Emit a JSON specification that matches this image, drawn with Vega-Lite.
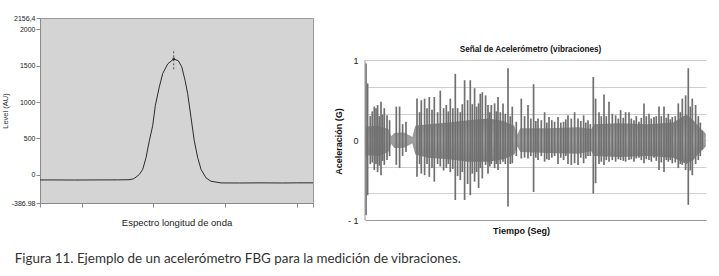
{
  "$schema": "https://vega.github.io/schema/vega-lite/v6.json",
  "background": "white",
  "padding": {"left": 0, "top": 13, "right": 2, "bottom": 2},
  "config": {"font": "Liberation Sans", "axis": {"grid": false, "labelOverlap": false}},
  "title": {"text": "Figura 11. Ejemplo de un acelerómetro FBG para la medición de vibraciones.", "orient": "bottom", "anchor": "start", "font": "Lato", "fontSize": 13.4, "fontWeight": "normal", "color": "#333333", "offset": 17, "dx": 14},
  "spacing": 18,
  "datasets": {
    "spectrum": [
      {"nm": 1539.418, "level": -70}, {"nm": 1539.6, "level": -70}, {"nm": 1539.9, "level": -71}, {"nm": 1540.2, "level": -70},
      {"nm": 1540.5, "level": -69}, {"nm": 1540.66, "level": -67}, {"nm": 1540.72, "level": -55}, {"nm": 1540.757, "level": -32},
      {"nm": 1540.803, "level": 5}, {"nm": 1540.851, "level": 75}, {"nm": 1540.897, "level": 236}, {"nm": 1540.943, "level": 468},
      {"nm": 1540.99, "level": 676}, {"nm": 1541.027, "level": 954}, {"nm": 1541.082, "level": 1208}, {"nm": 1541.13, "level": 1394},
      {"nm": 1541.199, "level": 1524}, {"nm": 1541.283, "level": 1593}, {"nm": 1541.347, "level": 1569}, {"nm": 1541.395, "level": 1486},
      {"nm": 1541.441, "level": 1301}, {"nm": 1541.478, "level": 1117}, {"nm": 1541.524, "level": 792}, {"nm": 1541.57, "level": 468},
      {"nm": 1541.618, "level": 236}, {"nm": 1541.664, "level": 75}, {"nm": 1541.734, "level": -42}, {"nm": 1541.803, "level": -88},
      {"nm": 1541.943, "level": -111}, {"nm": 1542.2, "level": -112}, {"nm": 1542.5, "level": -110}, {"nm": 1542.8, "level": -112},
      {"nm": 1543.0, "level": -110}, {"nm": 1543.226, "level": -110}
    ],
    "peak": [{"nm": 1541.283, "level": 1593, "lo": 1451, "hi": 1729}],
    "yaxis": [{"t": 0, "lo": -1, "hi": 1}],
    "band": [
      {"t": 0.3, "hi": 0.17, "lo": -0.19}, {"t": 13.3, "hi": 0.18, "lo": -0.2}, {"t": 23.3, "hi": 0.14, "lo": -0.15}, {"t": 26.3, "hi": 0.05, "lo": -0.05},
      {"t": 29.3, "hi": 0.09, "lo": -0.1}, {"t": 38.3, "hi": 0.1, "lo": -0.1}, {"t": 44.3, "hi": 0.06, "lo": -0.06}, {"t": 47.3, "hi": 0.04, "lo": -0.04},
      {"t": 50.3, "hi": 0.18, "lo": -0.18}, {"t": 63.3, "hi": 0.2, "lo": -0.22}, {"t": 83.3, "hi": 0.22, "lo": -0.24}, {"t": 103.3, "hi": 0.25, "lo": -0.27},
      {"t": 123.3, "hi": 0.27, "lo": -0.27}, {"t": 138.3, "hi": 0.24, "lo": -0.24}, {"t": 149.3, "hi": 0.18, "lo": -0.18}, {"t": 152.3, "hi": 0.07, "lo": -0.08},
      {"t": 155.3, "hi": 0.15, "lo": -0.15}, {"t": 183.3, "hi": 0.15, "lo": -0.16}, {"t": 213.3, "hi": 0.16, "lo": -0.17}, {"t": 226.3, "hi": 0.14, "lo": -0.14},
      {"t": 229.3, "hi": 0.2, "lo": -0.2}, {"t": 253.3, "hi": 0.21, "lo": -0.21}, {"t": 283.3, "hi": 0.2, "lo": -0.2}, {"t": 308.3, "hi": 0.22, "lo": -0.22},
      {"t": 321.3, "hi": 0.32, "lo": -0.3}, {"t": 328.3, "hi": 0.25, "lo": -0.25}, {"t": 335.3, "hi": 0.15, "lo": -0.15}, {"t": 340.8, "hi": 0.08, "lo": -0.08}
    ],
    "spikes": [
      {"t": 1.0, "hi": 0.96, "lo": -0.94}, {"t": 2.6, "hi": 0.71, "lo": -0.69}, {"t": 5.3, "hi": 0.3, "lo": -0.3}, {"t": 7.3, "hi": 0.36, "lo": -0.28},
      {"t": 9.3, "hi": 0.42, "lo": -0.375}, {"t": 11.0, "hi": 0.4, "lo": -0.3}, {"t": 12.6, "hi": 0.44, "lo": -0.4}, {"t": 14.3, "hi": 0.3, "lo": -0.32},
      {"t": 16.0, "hi": 0.48, "lo": -0.44}, {"t": 17.6, "hi": 0.32, "lo": -0.26}, {"t": 19.3, "hi": 0.4, "lo": -0.31}, {"t": 22.0, "hi": 0.31, "lo": -0.25},
      {"t": 24.6, "hi": 0.25, "lo": -0.2}, {"t": 31.3, "hi": 0.42, "lo": -0.31}, {"t": 34.6, "hi": 0.42, "lo": -0.35}, {"t": 37.6, "hi": 0.2, "lo": -0.2},
      {"t": 41.0, "hi": 0.23, "lo": -0.15}, {"t": 52.0, "hi": 0.52, "lo": -0.46}, {"t": 54.6, "hi": 0.35, "lo": -0.3}, {"t": 56.3, "hi": 0.5, "lo": -0.42},
      {"t": 59.6, "hi": 0.52, "lo": -0.44}, {"t": 62.0, "hi": 0.4, "lo": -0.3}, {"t": 64.3, "hi": 0.54, "lo": -0.46}, {"t": 67.0, "hi": 0.38, "lo": -0.35},
      {"t": 69.3, "hi": 0.54, "lo": -0.52}, {"t": 72.6, "hi": 0.35, "lo": -0.3}, {"t": 75.3, "hi": 0.62, "lo": -0.33}, {"t": 78.6, "hi": 0.4, "lo": -0.38},
      {"t": 81.3, "hi": 0.44, "lo": -0.35}, {"t": 83.3, "hi": 0.36, "lo": -0.3}, {"t": 85.3, "hi": 0.52, "lo": -0.4}, {"t": 87.8, "hi": 0.4, "lo": -0.36},
      {"t": 90.3, "hi": 0.83, "lo": -0.75}, {"t": 92.6, "hi": 0.4, "lo": -0.45}, {"t": 95.3, "hi": 0.35, "lo": -0.5}, {"t": 97.3, "hi": 0.45, "lo": -0.4},
      {"t": 99.6, "hi": 0.75, "lo": -0.75}, {"t": 102.6, "hi": 0.5, "lo": -0.55}, {"t": 105.3, "hi": 0.75, "lo": -0.69}, {"t": 107.3, "hi": 0.45, "lo": -0.42},
      {"t": 109.6, "hi": 0.65, "lo": -0.52}, {"t": 111.6, "hi": 0.42, "lo": -0.4}, {"t": 113.6, "hi": 0.46, "lo": -0.6}, {"t": 115.3, "hi": 0.58, "lo": -0.35},
      {"t": 117.3, "hi": 0.6, "lo": -0.48}, {"t": 120.6, "hi": 0.56, "lo": -0.31}, {"t": 123.0, "hi": 0.44, "lo": -0.42}, {"t": 124.8, "hi": 0.35, "lo": -0.33},
      {"t": 126.3, "hi": 0.44, "lo": -0.3}, {"t": 129.6, "hi": 0.46, "lo": -0.35}, {"t": 131.3, "hi": 0.36, "lo": -0.3}, {"t": 133.0, "hi": 0.54, "lo": -0.375},
      {"t": 135.3, "hi": 0.35, "lo": -0.3}, {"t": 138.0, "hi": 0.46, "lo": -0.27}, {"t": 140.3, "hi": 0.33, "lo": -0.3}, {"t": 143.0, "hi": 0.9, "lo": -0.83},
      {"t": 145.3, "hi": 0.3, "lo": -0.3}, {"t": 147.3, "hi": 0.42, "lo": -0.29}, {"t": 151.3, "hi": 0.23, "lo": -0.2}, {"t": 156.3, "hi": 0.52, "lo": -0.23},
      {"t": 159.6, "hi": 0.3, "lo": -0.22}, {"t": 163.0, "hi": 0.44, "lo": -0.23}, {"t": 165.8, "hi": 0.27, "lo": -0.2}, {"t": 168.6, "hi": 0.7, "lo": -0.65},
      {"t": 170.8, "hi": 0.24, "lo": -0.22}, {"t": 173.0, "hi": 0.27, "lo": -0.25}, {"t": 176.3, "hi": 0.25, "lo": -0.2}, {"t": 179.6, "hi": 0.35, "lo": -0.27},
      {"t": 181.8, "hi": 0.22, "lo": -0.24}, {"t": 184.0, "hi": 0.29, "lo": -0.25}, {"t": 186.8, "hi": 0.25, "lo": -0.22}, {"t": 189.6, "hi": 0.23, "lo": -0.2},
      {"t": 193.0, "hi": 0.29, "lo": -0.3}, {"t": 195.8, "hi": 0.22, "lo": -0.22}, {"t": 198.6, "hi": 0.23, "lo": -0.25}, {"t": 200.8, "hi": 0.26, "lo": -0.2},
      {"t": 203.0, "hi": 0.31, "lo": -0.3}, {"t": 206.3, "hi": 0.27, "lo": -0.31}, {"t": 209.6, "hi": 0.35, "lo": -0.29}, {"t": 213.0, "hi": 0.27, "lo": -0.31},
      {"t": 215.8, "hi": 0.24, "lo": -0.22}, {"t": 218.6, "hi": 0.31, "lo": -0.29}, {"t": 220.8, "hi": 0.22, "lo": -0.23}, {"t": 223.0, "hi": 0.25, "lo": -0.2},
      {"t": 225.3, "hi": 0.2, "lo": -0.2}, {"t": 228.3, "hi": 0.79, "lo": -0.67}, {"t": 230.6, "hi": 0.52, "lo": -0.54}, {"t": 234.0, "hi": 0.35, "lo": -0.3},
      {"t": 236.3, "hi": 0.3, "lo": -0.27}, {"t": 239.0, "hi": 0.57, "lo": -0.31}, {"t": 241.3, "hi": 0.3, "lo": -0.25}, {"t": 244.0, "hi": 0.48, "lo": -0.27},
      {"t": 247.3, "hi": 0.33, "lo": -0.25}, {"t": 250.6, "hi": 0.31, "lo": -0.27}, {"t": 253.3, "hi": 0.27, "lo": -0.24}, {"t": 255.6, "hi": 0.375, "lo": -0.25},
      {"t": 258.3, "hi": 0.28, "lo": -0.26}, {"t": 260.6, "hi": 0.35, "lo": -0.27}, {"t": 264.0, "hi": 0.35, "lo": -0.25}, {"t": 266.3, "hi": 0.27, "lo": -0.24},
      {"t": 269.0, "hi": 0.25, "lo": -0.27}, {"t": 271.3, "hi": 0.3, "lo": -0.23}, {"t": 274.0, "hi": 0.23, "lo": -0.22}, {"t": 276.3, "hi": 0.28, "lo": -0.25},
      {"t": 279.0, "hi": 0.46, "lo": -0.29}, {"t": 281.3, "hi": 0.3, "lo": -0.24}, {"t": 284.0, "hi": 0.33, "lo": -0.25}, {"t": 286.3, "hi": 0.27, "lo": -0.27},
      {"t": 289.0, "hi": 0.29, "lo": -0.22}, {"t": 291.3, "hi": 0.3, "lo": -0.26}, {"t": 294.0, "hi": 0.42, "lo": -0.375}, {"t": 296.3, "hi": 0.3, "lo": -0.28},
      {"t": 299.0, "hi": 0.42, "lo": -0.4}, {"t": 301.3, "hi": 0.28, "lo": -0.25}, {"t": 303.3, "hi": 0.33, "lo": -0.27}, {"t": 305.3, "hi": 0.26, "lo": -0.25},
      {"t": 307.3, "hi": 0.29, "lo": -0.29}, {"t": 310.3, "hi": 0.3, "lo": -0.28}, {"t": 313.3, "hi": 0.46, "lo": -0.35}, {"t": 315.3, "hi": 0.35, "lo": -0.3},
      {"t": 317.3, "hi": 0.52, "lo": -0.31}, {"t": 320.6, "hi": 0.56, "lo": -0.375}, {"t": 323.3, "hi": 0.9, "lo": -0.81}, {"t": 325.3, "hi": 0.42, "lo": -0.38},
      {"t": 327.3, "hi": 0.52, "lo": -0.44}, {"t": 330.6, "hi": 0.44, "lo": -0.3}, {"t": 333.3, "hi": 0.3, "lo": -0.25}, {"t": 335.3, "hi": 0.22, "lo": -0.2},
      {"t": 337.3, "hi": 0.12, "lo": -0.12}
    ]
  },
  "hconcat": [
    {
      "width": 273,
      "height": 185,
      "view": {"fill": "#d4d4d4", "stroke": "#9a9a9a", "strokeWidth": 1},
      "layer": [
        {
          "data": {"name": "spectrum"},
          "mark": {"type": "line", "color": "#2b2b2b", "strokeWidth": 1},
          "encoding": {
            "x": {"field": "nm", "type": "quantitative", "scale": {"domain": [1539.418, 1543.226], "nice": false, "zero": false},
              "axis": {"title": "Espectro longitud de onda", "values": [1539.418, 1540, 1541, 1542, 1543, 1543.226], "tickCount": 20, "labels": false, "ticks": true, "tickSize": 4, "tickColor": "#8a8a8a", "domainColor": "#8a8a8a", "titleFont": "Liberation Sans", "titleFontSize": 9.5, "titleFontWeight": "normal", "titleColor": "#222222", "titlePadding": 10}},
            "y": {"field": "level", "type": "quantitative", "scale": {"domain": [-386.98, 2156.4], "nice": false, "zero": false},
              "axis": {"title": "Level (AU)", "values": [-386.98, 0, 500, 1000, 1500, 2000, 2156.4], "tickCount": 20, "labelExpr": "datum.value == 2156.4 ? '2156,4' : datum.value == -386.98 ? '-386.98' : format(datum.value, 'd')", "labelFontSize": 7, "labelColor": "#222222", "labelFontWeight": "normal", "tickSize": 4, "tickColor": "#8a8a8a", "domainColor": "#8a8a8a", "labelPadding": 1, "labelOverlap": false, "labelFlush": false, "titleFontSize": 7.5, "titleFontWeight": "normal", "titleColor": "#333333", "titlePadding": 2}}
          }
        },
        {
          "data": {"name": "peak"},
          "mark": {"type": "rule", "color": "#333333", "strokeWidth": 0.8, "strokeDash": [2, 2]},
          "encoding": {
            "x": {"field": "nm", "type": "quantitative"},
            "y": {"field": "lo", "type": "quantitative"},
            "y2": {"field": "hi"}
          }
        },
        {
          "data": {"name": "peak"},
          "mark": {"type": "point", "filled": true, "color": "#111111", "size": 8},
          "encoding": {
            "x": {"field": "nm", "type": "quantitative"},
            "y": {"field": "level", "type": "quantitative"}
          }
        }
      ]
    },
    {
      "width": 341,
      "height": 202,
      "title": {"text": "Señal de Acelerómetro (vibraciones)", "frame": "group", "fontSize": 8.2, "fontWeight": "bold", "offset": -36, "anchor": "middle", "dx": -5, "color": "#111111"},
      "view": {"stroke": null},
      "layer": [
        {
          "data": {"name": "band"},
          "mark": {"type": "area", "fill": {"gradient": "linear", "x1": 0, "y1": 0, "x2": 0, "y2": 1, "stops": [{"offset": 0, "color": "#808080"}, {"offset": 0.5, "color": "#a0a0a0"}, {"offset": 1, "color": "#808080"}]}},
          "encoding": {
            "x": {"field": "t", "type": "quantitative", "scale": {"domain": [0, 341], "nice": false, "zero": false},
              "axis": {"title": "Tiempo (Seg)", "labels": false, "ticks": false, "domainColor": "#999999", "titleFontSize": 9, "titleFontWeight": "bold", "titleColor": "#111111", "titlePadding": 6, "titleX": 156}},
            "y": {"field": "hi", "type": "quantitative", "scale": {"domain": [-1, 1.529], "nice": false, "zero": false},
              "axis": {"title": "Aceleración (G)", "values": [-1, -0.6667, -0.3333, 0, 0.3333, 0.6667, 1], "tickCount": 20, "labelExpr": "datum.value == 1 ? '1' : datum.value == 0 ? '0' : datum.value == -1 ? '- 1' : ''", "grid": true, "gridColor": "#cfcfcf", "ticks": false, "domain": false, "labelFontSize": 9, "labelColor": "#222222", "labelPadding": 7, "labelOverlap": false, "labelFlush": false, "titleFontSize": 9, "titleFontWeight": "bold", "titleColor": "#111111", "titlePadding": 4, "titleY": 123}},
            "y2": {"field": "lo"}
          }
        },
        {
          "data": {"name": "spikes"},
          "mark": {"type": "rule", "color": "#707070", "strokeWidth": 1.7},
          "encoding": {
            "x": {"field": "t", "type": "quantitative"},
            "y": {"field": "hi", "type": "quantitative"},
            "y2": {"field": "lo"}
          }
        },
        {
          "data": {"name": "yaxis"},
          "mark": {"type": "rule", "color": "#999999", "strokeWidth": 1},
          "encoding": {
            "x": {"field": "t", "type": "quantitative"},
            "y": {"field": "lo", "type": "quantitative"},
            "y2": {"field": "hi"}
          }
        }
      ]
    }
  ]
}
